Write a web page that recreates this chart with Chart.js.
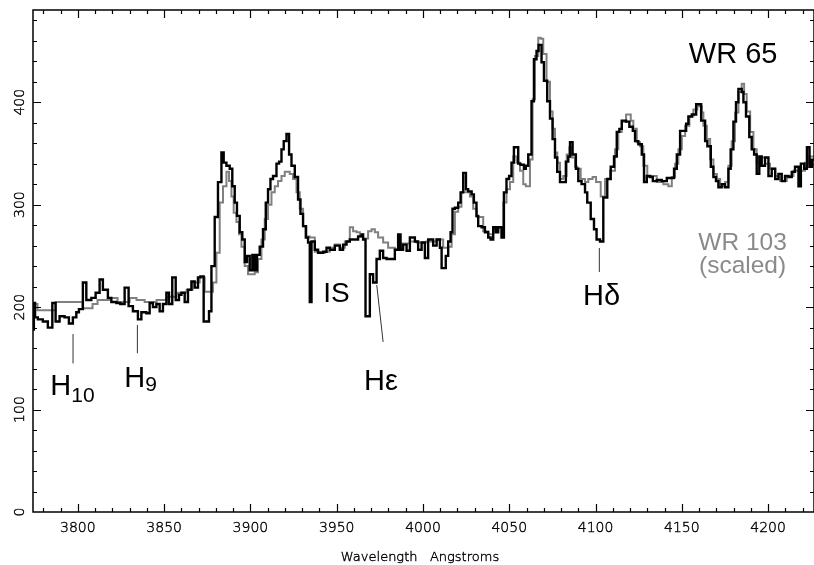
<!DOCTYPE html>
<html>
<head>
<meta charset="utf-8">
<title>WR 65 spectrum</title>
<script src="https://cdn.jsdelivr.net/npm/chart.js@4.4.1/dist/chart.umd.min.js"></script>
<style>
  html, body { margin: 0; padding: 0; background: #fff; }
  #wrap { width: 814px; height: 565px; }
</style>
</head>
<body>
<div id="wrap"><canvas id="spec" width="814" height="565"></canvas></div>
<script>
// WR 65 (black), wavelength of each bin start in Angstroms
const blackWave = [
  3773.9, 3774.5, 3775.2, 3776.8, 3779.7, 3782.6, 3785.2, 3787.1, 3789.4, 3792.3,
  3794.8, 3797.1, 3799.1, 3800.6, 3802.9, 3804.9, 3807.8, 3810.3, 3812.6, 3814.5,
  3817.4, 3819.4, 3822.3, 3824.6, 3827.1, 3829.4, 3831.9, 3834.8, 3836.8, 3839.7,
  3841.6, 3843.5, 3845.5, 3847.4, 3849.3, 3851.3, 3852.8, 3854.7, 3856.7, 3858.6,
  3860.0, 3861.9, 3863.8, 3865.8, 3867.7, 3869.6, 3871.0, 3872.9, 3876.0, 3877.4,
  3879.3, 3881.2, 3883.2, 3884.5, 3886.1, 3888.0, 3889.5, 3890.9, 3892.2, 3893.8,
  3895.3, 3896.7, 3898.0, 3899.6, 3901.1, 3902.5, 3903.8, 3905.4, 3907.3, 3908.9,
  3910.2, 3911.6, 3913.1, 3915.1, 3916.6, 3918.0, 3919.3, 3920.9, 3922.4, 3923.8,
  3925.7, 3927.6, 3929.0, 3930.5, 3932.1, 3933.4, 3934.4, 3935.4, 3937.3, 3939.2,
  3942.1, 3944.1, 3946.0, 3948.9, 3951.8, 3953.7, 3955.7, 3957.6, 3962.4, 3964.4,
  3965.3, 3966.7, 3969.2, 3971.1, 3973.1, 3975.0, 3976.9, 3978.9, 3983.7, 3985.6,
  3987.0, 3988.5, 3990.5, 3992.4, 3995.3, 3997.2, 3999.2, 4001.1, 4003.0, 4005.9,
  4007.9, 4009.8, 4010.8, 4013.2, 4014.6, 4016.0, 4017.1, 4018.5, 4020.4, 4021.8,
  4023.3, 4024.9, 4026.2, 4028.2, 4029.5, 4031.0, 4032.0, 4034.0, 4035.9, 4037.8,
  4039.2, 4040.7, 4042.2, 4043.6, 4045.5, 4046.9, 4048.4, 4049.9, 4051.3, 4052.7,
  4055.2, 4056.5, 4058.5, 4059.6, 4061.0, 4062.9, 4064.3, 4065.8, 4067.0, 4068.7,
  4070.1, 4072.0, 4073.6, 4075.1, 4076.5, 4077.8, 4079.4, 4082.8, 4084.2, 4085.2,
  4086.7, 4088.6, 4090.0, 4091.9, 4093.9, 4095.2, 4097.2, 4099.1, 4100.6, 4102.6,
  4104.5, 4106.8, 4108.8, 4110.7, 4112.3, 4113.8, 4115.2, 4117.7, 4119.6, 4121.6,
  4122.9, 4124.8, 4126.8, 4128.1, 4129.7, 4131.6, 4133.2, 4135.5, 4138.4, 4141.3,
  4145.5, 4147.1, 4149.0, 4152.5, 4153.8, 4155.8, 4158.3, 4161.2, 4163.5, 4164.8,
  4166.8, 4168.3, 4169.8, 4171.2, 4173.1, 4175.0, 4177.0, 4178.3, 4179.9, 4181.4,
  4182.8, 4184.7, 4185.7, 4187.2, 4189.1, 4190.5, 4191.9, 4193.4, 4194.9, 4196.3,
  4198.2, 4200.2, 4202.1, 4204.1, 4206.0, 4207.9, 4209.8, 4211.8, 4213.7, 4215.6,
  4217.6, 4219.0, 4220.9, 4222.5, 4224.0, 4225.4, 4226.7
];
const blackFlux = [
  178, 204, 190, 188, 186, 180, 204, 186, 191, 190,
  184, 190, 195, 198, 224, 207, 209, 214, 227, 217,
  209, 205, 204, 203, 219, 201, 196, 188, 195, 194,
  204, 200, 203, 196, 203, 214, 203, 229, 207, 212,
  214, 205, 217, 225, 219, 229, 230, 186, 196, 240,
  288, 322, 351, 341, 338, 335, 318, 302, 289, 273,
  266, 244, 250, 236, 251, 236, 251, 259, 276, 302,
  315, 325, 328, 340, 342, 354, 362, 369, 349, 338,
  327, 305, 291, 279, 268, 263, 205, 264, 256, 253,
  254, 258, 256, 260, 256, 261, 264, 266, 269, 271,
  266, 191, 232, 224, 247, 255, 248, 247, 256, 271,
  256, 261, 255, 268, 264, 256, 263, 248, 266, 260,
  266, 258, 238, 250, 264, 273, 296, 297, 302, 312,
  331, 315, 313, 310, 302, 289, 279, 278, 273, 268,
  266, 278, 273, 278, 268, 312, 325, 328, 341, 356,
  340, 339, 335, 338, 349, 401, 442, 450, 456, 439,
  421, 401, 384, 364, 346, 332, 322, 342, 347, 361,
  349, 335, 323, 320, 312, 302, 286, 276, 266, 264,
  307, 325, 337, 347, 371, 374, 382, 381, 376, 372,
  362, 359, 349, 322, 328, 327, 323, 324, 323, 326,
  335, 349, 372, 379, 386, 388, 398, 382, 362, 357,
  337, 327, 323, 317, 320, 317, 335, 354, 381, 400,
  413, 410, 400, 386, 366, 354, 349, 330, 347, 338,
  346, 328, 335, 325, 330, 323, 328, 327, 332, 337,
  318, 340, 335, 356, 337, 344, 344
];

// WR 103 (grey, scaled)
const grayWave = [
  3773.9, 3776.6, 3787.1, 3802.7, 3808.5, 3811.4, 3818.4, 3823.0, 3830.0, 3834.0,
  3838.7, 3845.6, 3851.4, 3857.2, 3863.0, 3866.5, 3870.6, 3873.5, 3878.3, 3880.3,
  3882.2, 3884.1, 3886.1, 3887.6, 3889.0, 3890.3, 3891.9, 3893.4, 3894.8, 3896.7,
  3898.6, 3902.5, 3904.4, 3906.4, 3908.3, 3910.2, 3912.2, 3914.1, 3916.0, 3918.0,
  3919.9, 3922.8, 3924.7, 3926.7, 3928.6, 3930.5, 3932.5, 3934.4, 3937.3, 3940.2,
  3943.1, 3946.0, 3948.9, 3951.8, 3954.7, 3957.6, 3959.5, 3961.5, 3963.4, 3965.3,
  3968.2, 3970.2, 3972.1, 3974.0, 3976.9, 3979.8, 3983.7, 3987.6, 3992.4, 3996.3,
  4002.1, 4007.9, 4011.7, 4014.6, 4016.6, 4018.5, 4020.4, 4022.3, 4027.2, 4029.1,
  4031.1, 4034.9, 4037.8, 4040.7, 4043.6, 4046.5, 4048.4, 4050.4, 4052.3, 4054.2,
  4056.2, 4058.1, 4059.6, 4062.0, 4063.5, 4064.9, 4066.8, 4068.2, 4069.7, 4071.6,
  4073.6, 4075.1, 4076.5, 4077.8, 4079.4, 4081.3, 4083.3, 4084.8, 4086.2, 4088.1,
  4089.4, 4091.4, 4093.9, 4095.8, 4098.3, 4100.3, 4103.0, 4105.5, 4108.4, 4111.3,
  4113.2, 4115.2, 4117.7, 4120.4, 4121.9, 4123.9, 4125.8, 4127.7, 4130.0, 4132.6,
  4135.5, 4139.3, 4142.2, 4144.2, 4146.1, 4148.0, 4150.0, 4151.9, 4154.4, 4156.7,
  4159.0, 4161.6, 4162.5, 4164.5, 4166.4, 4168.3, 4170.3, 4172.2, 4175.1, 4177.0,
  4178.9, 4180.8, 4182.8, 4184.7, 4186.1, 4187.6, 4189.6, 4191.5, 4193.4, 4195.3,
  4198.2, 4201.1, 4204.1, 4207.0, 4210.8, 4214.7, 4221.4, 4223.9, 4226.7
];
const grayFlux = [
  203, 197, 205, 199, 203, 207, 209, 205, 209, 207,
  205, 207, 210, 214, 217, 224, 229, 215, 224, 253,
  302, 318, 332, 323, 308, 292, 283, 271, 259, 240,
  232, 234, 247, 266, 286, 300, 312, 318, 323, 328,
  332, 330, 325, 312, 296, 279, 269, 268, 254, 253,
  254, 258, 261, 258, 264, 278, 274, 273, 269, 267,
  274, 276, 273, 268, 263, 258, 256, 262, 264, 263,
  264, 266, 258, 259, 271, 293, 298, 312, 308, 296,
  288, 274, 271, 276, 278, 302, 315, 322, 347, 341,
  333, 320, 318, 344, 403, 445, 463, 462, 447, 420,
  391, 374, 351, 341, 325, 328, 349, 356, 346, 337,
  335, 325, 322, 325, 327, 322, 308, 325, 333, 354,
  371, 381, 388, 382, 374, 361, 357, 338, 327, 328,
  322, 320, 318, 327, 340, 354, 367, 377, 386, 393,
  396, 390, 377, 364, 344, 330, 325, 318, 322, 338,
  362, 390, 410, 418, 408, 391, 371, 354, 341, 346,
  340, 335, 328, 323, 328, 333, 341, 347, 347
];

const xTickLabels = [3800, 3850, 3900, 3950, 4000, 4050, 4100, 4150, 4200];
const yTickLabels = [0, 100, 200, 300, 400];

// text on the plot, placed in data units (wavelength, flux)
const notes = [
  { text: 'WR 65', w: 4179.7, f: 438, size: 29, color: '#000' },
  { text: 'WR 103', w: 4185.2, f: 255.7, size: 24.5, color: '#8a8a8a' },
  { text: '(scaled)', w: 4185.2, f: 233.3, size: 24.5, color: '#8a8a8a' },
  { text: 'H\u03b4', w: 4103.5, f: 202, size: 29, color: '#000' },
  { text: 'IS', w: 3949.8, f: 205, size: 28, color: '#000' },
  { text: 'H\u03b5', w: 3975.6, f: 119, size: 29, color: '#000' }
];
// H with a subscript: left of the H, baseline, subscript baseline
const subNotes = [
  { sub: '10', w: 3784.0, f: 114.2, fs: 107.4 },
  { sub: '9', w: 3826.9, f: 122, fs: 118 }
];
// little marker lines under the absorption features
const markers = [
  [3797.2, 173.7, 3797.2, 145],
  [3834.5, 182.5, 3834.5, 155],
  [4102.2, 257.7, 4102.2, 234.3],
  [3973.2, 221.6, 3976.9, 166]
];

function toPoints(waves, flux) {
  return waves.map(function (w, i) { return { x: w, y: flux[i] }; });
}

const LIGHT = '"DejaVu Sans", "Liberation Sans", sans-serif';
const SANS = '"Liberation Sans", Arial, sans-serif';

// thin text, stroked a touch so it reads black like the plotter font
function thinText(ctx, s, x, y) {
  ctx.fillText(s, x, y);
  ctx.strokeText(s, x, y);
}

const framePlugin = {
  id: 'frame',
  afterDatasetsDraw(chart) {
    const ctx = chart.ctx;
    const a = chart.chartArea;
    const xs = chart.scales.x;
    const ys = chart.scales.y;
    ctx.save();

    // box
    ctx.strokeStyle = '#000';
    ctx.lineWidth = 1.5;
    ctx.strokeRect(a.left, a.top, a.right - a.left, a.bottom - a.top);

    // inward ticks
    ctx.lineWidth = 1.2;
    ctx.beginPath();
    for (let v = 3780; v <= 4220; v += 10) {
      const px = Math.round(xs.getPixelForValue(v)) + 0.5;
      const len = v % 50 === 0 ? 8 : 4;
      ctx.moveTo(px, a.bottom); ctx.lineTo(px, a.bottom - len);
      ctx.moveTo(px, a.top); ctx.lineTo(px, a.top + len);
    }
    for (let v = 20; v <= 480; v += 20) {
      const py = Math.round(ys.getPixelForValue(v)) + 0.5;
      const len = v % 100 === 0 ? 8 : 4;
      ctx.moveTo(a.left, py); ctx.lineTo(a.left + len, py);
      ctx.moveTo(a.right, py); ctx.lineTo(a.right - len, py);
    }
    ctx.stroke();

    // tick labels
    ctx.fillStyle = '#000';
    ctx.strokeStyle = '#000';
    ctx.lineWidth = 0.4;
    ctx.font = '200 14px ' + LIGHT;
    ctx.textAlign = 'center';
    ctx.textBaseline = 'alphabetic';
    xTickLabels.forEach(function (v) {
      thinText(ctx, String(v), xs.getPixelForValue(v), a.bottom + 20);
    });
    yTickLabels.forEach(function (v) {
      ctx.save();
      ctx.translate(a.left - 9, ys.getPixelForValue(v));
      ctx.rotate(-Math.PI / 2);
      thinText(ctx, String(v), 0, 0);
      ctx.restore();
    });

    // axis title
    ctx.font = '200 13px ' + LIGHT;
    thinText(ctx, 'Wavelength   Angstroms', 420, a.bottom + 49);

    // marker lines
    ctx.strokeStyle = '#333';
    ctx.lineWidth = 1;
    ctx.beginPath();
    markers.forEach(function (m) {
      ctx.moveTo(xs.getPixelForValue(m[0]), ys.getPixelForValue(m[1]));
      ctx.lineTo(xs.getPixelForValue(m[2]), ys.getPixelForValue(m[3]));
    });
    ctx.stroke();

    // labels
    notes.forEach(function (n) {
      ctx.font = n.size + 'px ' + SANS;
      ctx.fillStyle = n.color;
      ctx.textAlign = 'center';
      ctx.fillText(n.text, xs.getPixelForValue(n.w), ys.getPixelForValue(n.f));
    });
    subNotes.forEach(function (n) {
      const x0 = xs.getPixelForValue(n.w);
      ctx.fillStyle = '#000';
      ctx.textAlign = 'left';
      ctx.font = '29px ' + SANS;
      ctx.fillText('H', x0, ys.getPixelForValue(n.f));
      const hw = ctx.measureText('H').width;
      ctx.font = '21px ' + SANS;
      ctx.fillText(n.sub, x0 + hw, ys.getPixelForValue(n.fs));
    });

    ctx.restore();
  }
};

new Chart(document.getElementById('spec'), {
  type: 'line',
  data: {
    datasets: [
      {
        label: 'WR 65',
        data: toPoints(blackWave, blackFlux),
        borderColor: '#000',
        borderWidth: 2.4,
        stepped: true,
        pointRadius: 0,
        fill: false
      },
      {
        label: 'WR 103 (scaled)',
        data: toPoints(grayWave, grayFlux),
        borderColor: '#808080',
        borderWidth: 2,
        stepped: true,
        pointRadius: 0,
        fill: false
      }
    ]
  },
  options: {
    responsive: false,
    animation: false,
    devicePixelRatio: 1,
    layout: { padding: { left: 33, top: 10, right: 0, bottom: 53 } },
    plugins: {
      legend: { display: false },
      tooltip: { enabled: false }
    },
    scales: {
      x: { type: 'linear', min: 3774, max: 4226.6, display: false },
      y: { type: 'linear', min: 0, max: 490, display: false }
    }
  },
  plugins: [framePlugin]
});
</script>
</body>
</html>
